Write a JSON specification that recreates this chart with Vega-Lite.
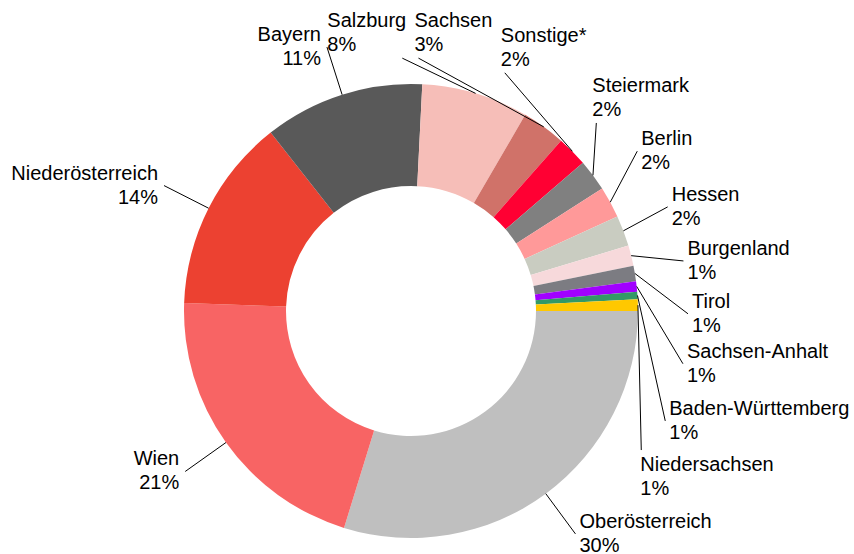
{
  "$schema": "https://vega.github.io/schema/vega-lite/v6.json",
  "width": 820,
  "height": 486,
  "autosize": "none",
  "padding": {"left": 1, "top": 68, "right": 33, "bottom": 0},
  "background": "white",
  "config": {"view": {"stroke": null}, "text": {"font": "Liberation Sans"}},
  "data": {
    "values": [
      {"name": "Oberösterreich", "value": 29.77},
      {"name": "Wien", "value": 20.8},
      {"name": "Niederösterreich", "value": 13.83},
      {"name": "Bayern", "value": 11.4},
      {"name": "Salzburg", "value": 7.6},
      {"name": "Sachsen", "value": 3.1},
      {"name": "Sonstige*", "value": 2.18},
      {"name": "Steiermark", "value": 2.26},
      {"name": "Berlin", "value": 2.23},
      {"name": "Hessen", "value": 2.19},
      {"name": "Burgenland", "value": 1.46},
      {"name": "Tirol", "value": 1.09},
      {"name": "Sachsen-Anhalt", "value": 0.74},
      {"name": "Baden-Württemberg", "value": 0.54},
      {"name": "Niedersachsen", "value": 0.82}
    ]
  },
  "transform": [
    {"window": [{"op": "row_number", "as": "idx"}]},
    {"window": [{"op": "sum", "field": "value", "as": "cum"}], "sort": [{"field": "idx", "order": "ascending"}], "frame": [null, 0]},
    {"joinaggregate": [{"op": "sum", "field": "value", "as": "total"}]},
    {"calculate": "(datum.cum - datum.value / 2) / datum.total * 2 * PI", "as": "mid"},
    {"calculate": "({'Salzburg': -18.5, 'Sachsen': -34.1, 'Sonstige*': -23.8, 'Steiermark': -8.7, 'Berlin': -6.6, 'Hessen': -1.4, 'Burgenland': 3.7, 'Tirol': 10.1, 'Sachsen-Anhalt': 17.2, 'Baden-Württemberg': 27.3, 'Niedersachsen': 32.6})[datum.name] || 0", "as": "da"},
    {"calculate": "({'Salzburg': 253, 'Sachsen': 253, 'Sonstige*': 256, 'Steiermark': 264, 'Niedersachsen': 269})[datum.name] || 277", "as": "rl"},
    {"calculate": "({'Salzburg': 'top', 'Sachsen': 'top', 'Sonstige*': 'top', 'Steiermark': 'top', 'Niedersachsen': 'bottom'})[datum.name] || (cos(datum.mid) < 0 ? 'left' : 'right')", "as": "side"},
    {"calculate": "227 * cos(datum.mid)", "as": "sx"},
    {"calculate": "227 * sin(datum.mid)", "as": "sy"},
    {"calculate": "datum.rl * cos(datum.mid + datum.da * PI / 180)", "as": "ex"},
    {"calculate": "datum.rl * sin(datum.mid + datum.da * PI / 180)", "as": "ey"},
    {"calculate": "datum.ex + (datum.name === 'Salzburg' ? -75 : datum.side === 'left' ? -6 : datum.side === 'right' ? 4 : datum.side === 'top' ? -4 : -1)", "as": "tx"},
    {"calculate": "datum.ey + (datum.side === 'top' ? -37 : datum.side === 'bottom' ? 15 : -12)", "as": "ty"},
    {"calculate": "datum.name + '\\n' + format(datum.value, '.0f') + '%'", "as": "label"}
  ],
  "layer": [
    {
      "mark": {"type": "arc", "outerRadius": 227, "innerRadius": 125},
      "encoding": {
        "theta": {"field": "value", "type": "quantitative", "stack": true, "scale": {"range": [1.5707963267948966, 7.853981633974483]}},
        "order": {"field": "idx", "type": "quantitative"},
        "color": {
          "field": "name",
          "type": "nominal",
          "legend": null,
          "scale": {
            "domain": ["Oberösterreich", "Wien", "Niederösterreich", "Bayern", "Salzburg", "Sachsen", "Sonstige*", "Steiermark", "Berlin", "Hessen", "Burgenland", "Tirol", "Sachsen-Anhalt", "Baden-Württemberg", "Niedersachsen"],
            "range": ["#BFBFBF", "#F86464", "#EC4131", "#595959", "#F6BEB8", "#D07269", "#FF0033", "#808080", "#FF9999", "#C9CCC1", "#F7D9DB", "#7C7C82", "#A100FF", "#339966", "#FFC800"]
          }
        }
      }
    },
    {
      "mark": {"type": "rule", "color": "black", "strokeWidth": 1},
      "encoding": {
        "x": {"field": "sx", "type": "quantitative", "scale": {"domain": [-410, 410], "nice": false, "zero": false}, "axis": null},
        "y": {"field": "sy", "type": "quantitative", "scale": {"domain": [-243, 243], "nice": false, "zero": false, "reverse": true}, "axis": null},
        "x2": {"field": "ex"},
        "y2": {"field": "ey"}
      }
    },
    {
      "transform": [{"filter": "datum.side === 'left'"}],
      "mark": {"type": "text", "align": "right", "baseline": "middle", "lineBreak": "\n", "fontSize": 20, "lineHeight": 24, "color": "black"},
      "encoding": {
        "x": {"field": "tx", "type": "quantitative"},
        "y": {"field": "ty", "type": "quantitative"},
        "text": {"field": "label"}
      }
    },
    {
      "transform": [{"filter": "datum.side !== 'left'"}],
      "mark": {"type": "text", "align": "left", "baseline": "middle", "lineBreak": "\n", "fontSize": 20, "lineHeight": 24, "color": "black"},
      "encoding": {
        "x": {"field": "tx", "type": "quantitative"},
        "y": {"field": "ty", "type": "quantitative"},
        "text": {"field": "label"}
      }
    }
  ]
}
